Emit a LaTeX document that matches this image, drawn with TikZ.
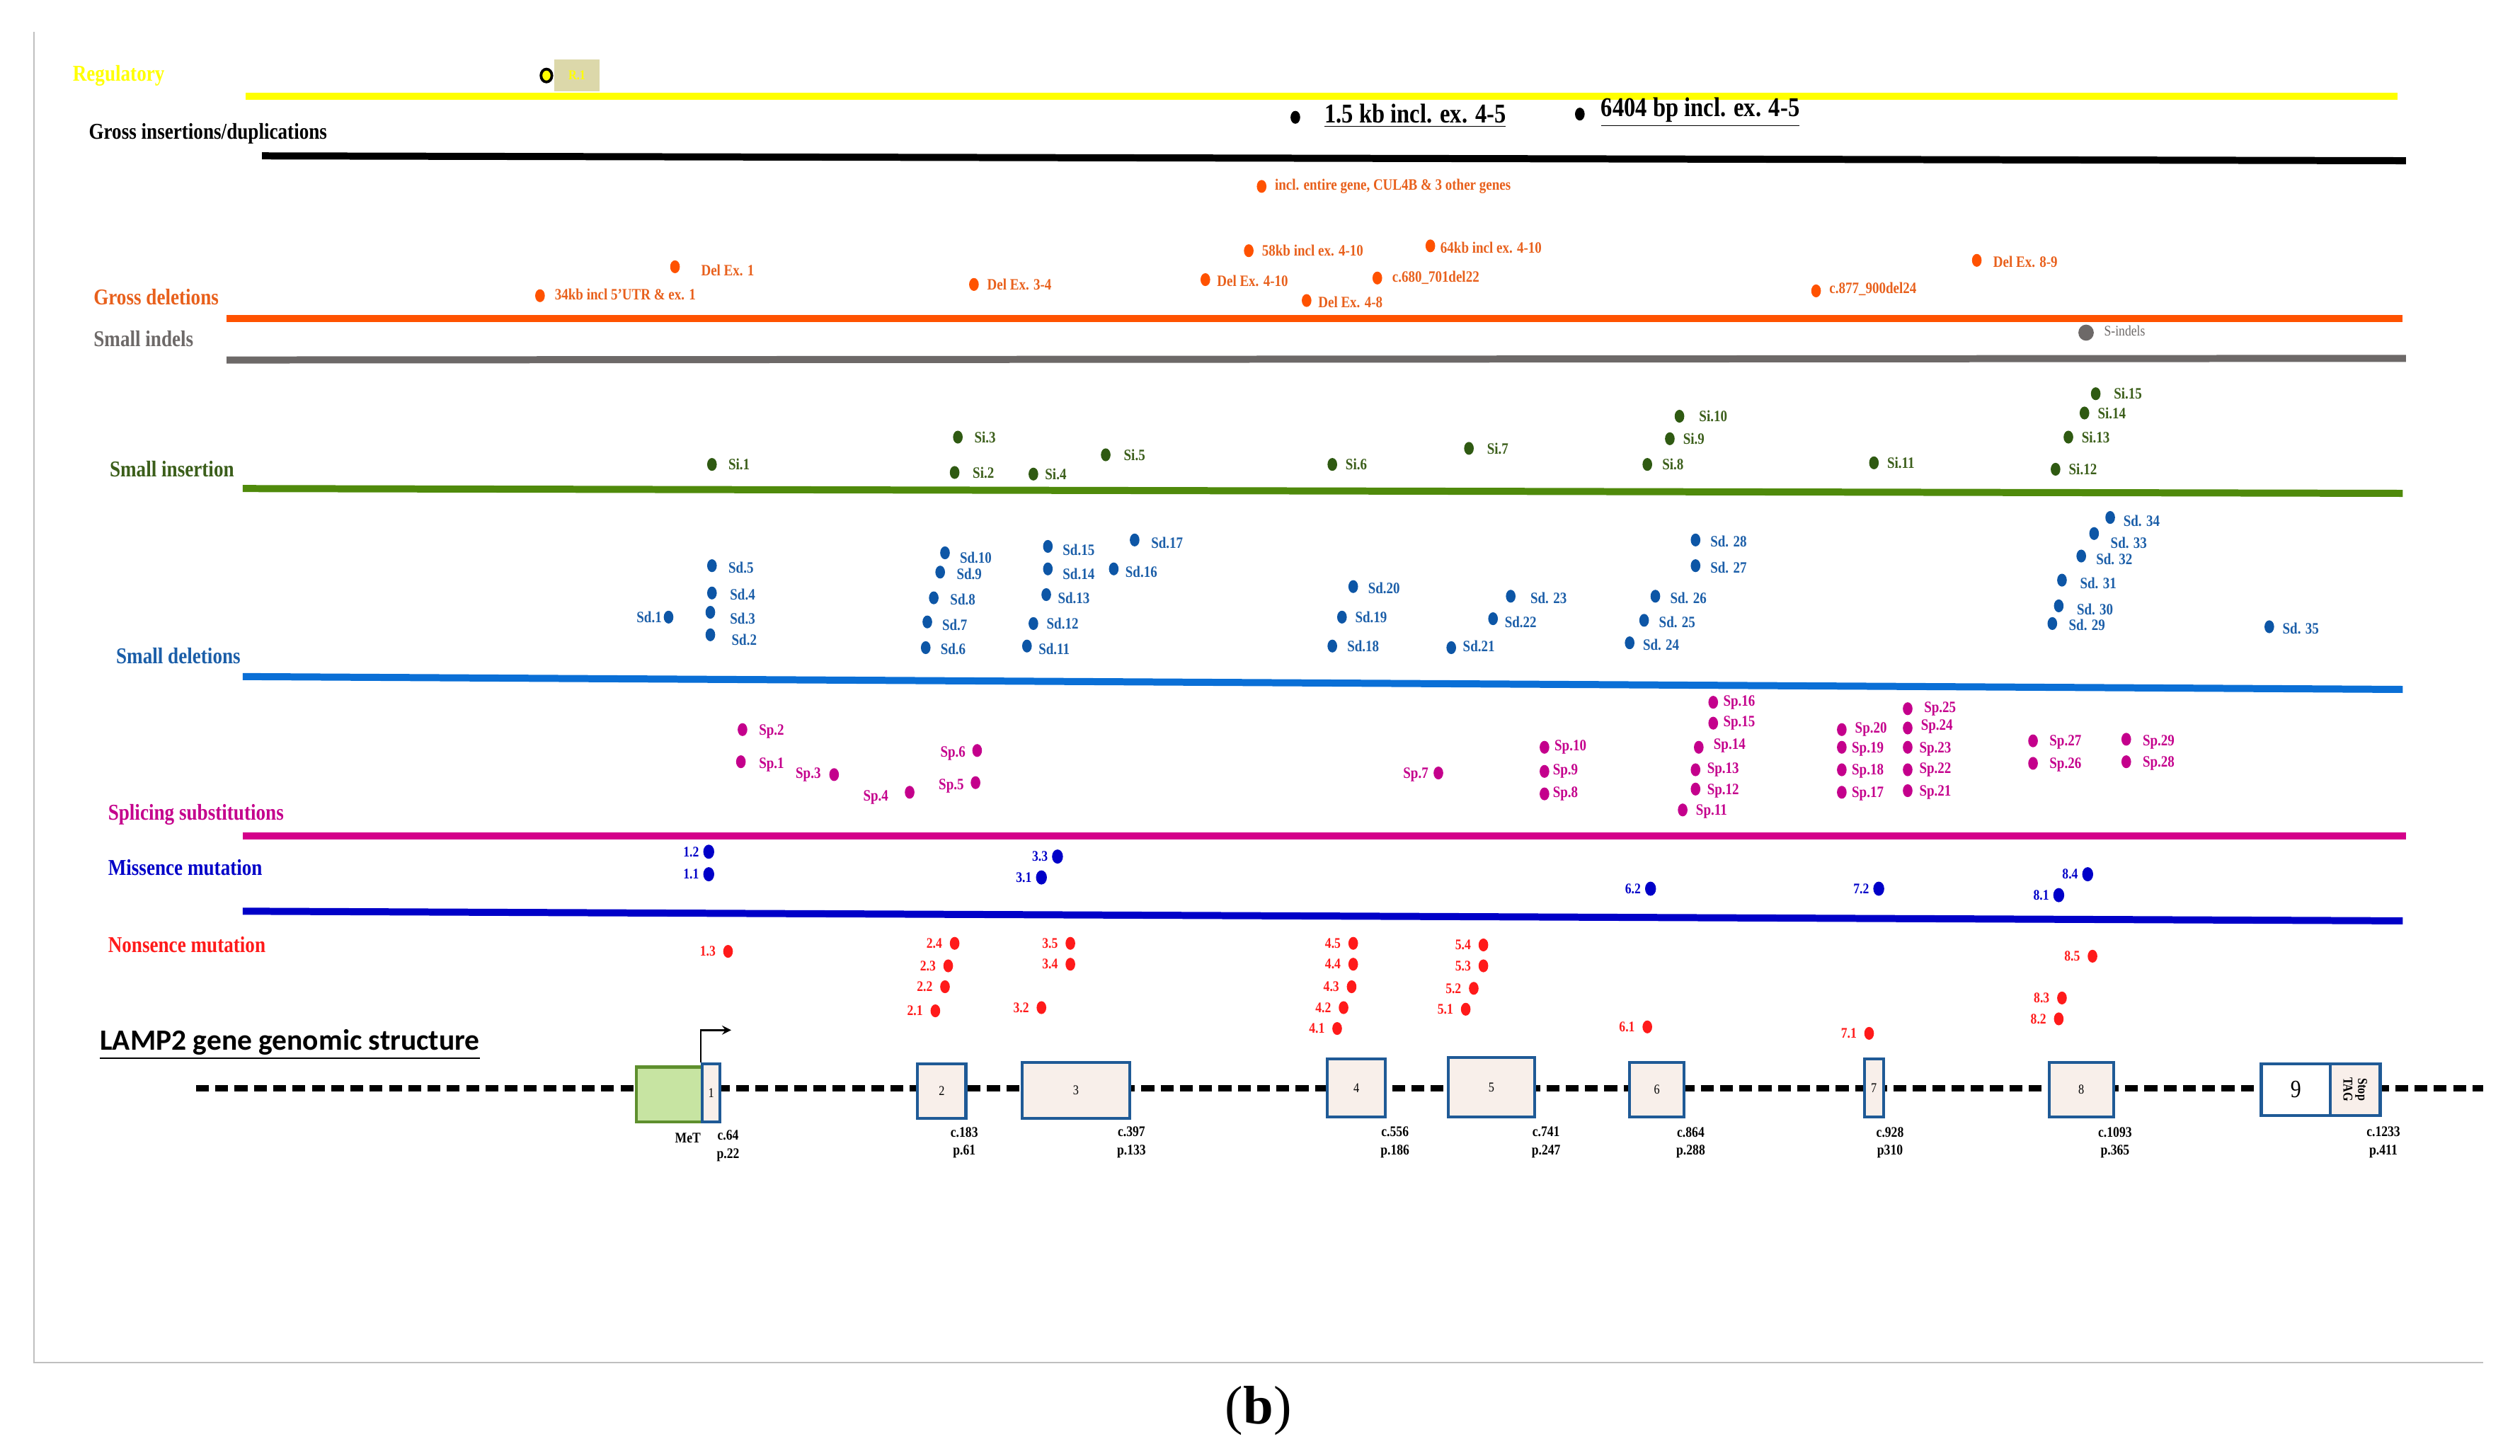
\documentclass[tikz,border=0pt]{standalone}
\usepackage{fontspec}
\setmainfont{Liberation Serif}[FakeStretch=0.85]
\newfontfamily\capfont{Liberation Serif}
\newfontfamily\genefont{Carlito}
\usetikzlibrary{shapes.geometric, arrows}

\definecolor{regyellow}{HTML}{FFFF00}
\definecolor{regbox}{HTML}{DCD8AA}
\definecolor{gdorange}{HTML}{FF5200}
\definecolor{gdtext}{HTML}{E8601C}
\definecolor{indelgrey}{HTML}{6D6968}
\definecolor{siline}{HTML}{4F8A0B}
\definecolor{sidot}{HTML}{2F5A12}
\definecolor{sitext}{HTML}{3B5E1A}
\definecolor{sdline}{HTML}{0A6FD6}
\definecolor{sddot}{HTML}{0D56A6}
\definecolor{sdtext}{HTML}{1B5EA8}
\definecolor{spline}{HTML}{D4008A}
\definecolor{spdot}{HTML}{C4008C}
\definecolor{msblue}{HTML}{0000C8}
\definecolor{nsred}{HTML}{FF1A1A}
\definecolor{exonblue}{HTML}{1F5A96}
\definecolor{exonfill}{HTML}{F8EFEA}
\definecolor{utrfill}{HTML}{C7E4A2}
\definecolor{utrdraw}{HTML}{5E8F2E}

\tikzstyle{heading} = [anchor=west, inner sep=0pt, font=\bfseries\fontsize{10}{12}\selectfont]
\tikzstyle{track} = [line width=0.11cm]
\tikzstyle{mutdot} = [ellipse, inner sep=0pt, minimum width=0.15cm, minimum height=0.2cm]
\tikzstyle{mutlab} = [inner sep=0pt, font=\bfseries\fontsize{7}{8}\selectfont]
\tikzstyle{numlab} = [inner sep=0pt, anchor=east, font=\bfseries\fontsize{6.5}{7}\selectfont]
\tikzstyle{biglab} = [anchor=west, inner sep=0pt, font=\bfseries\fontsize{12}{14}\selectfont]
\tikzstyle{exon} = [rectangle, draw=exonblue, line width=1.3pt, fill=exonfill, inner sep=0pt, font=\fontsize{6}{7}\selectfont]
\tikzstyle{poslab} = [inner sep=0pt, align=center, anchor=north, font=\bfseries\fontsize{6.5}{8}\selectfont]
\tikzstyle{arrow} = [thick,->,>=stealth]

\begin{document}
\begin{tikzpicture}[x=0.025cm, y=-0.025cm]
   \useasboundingbox (0,0) rectangle (1568,906);
   \draw [black!25, line width=0.6pt] (21,20) -- (21,848) -- (1545,848);

   % tracks
   \draw [track, regyellow] (153,60) -- (1492,60);
   \draw [track, black] (163,97) -- (1497,100);
   \draw [track, gdorange] (141,198) -- (1495,198);
   \draw [track, indelgrey] (141,224) -- (1497,223);
   \draw [track, siline] (151,304) -- (1495,307);
   \draw [track, sdline] (151,421) -- (1495,429);
   \draw [track, spline] (151,520) -- (1497,520);
   \draw [track, msblue] (151,567) -- (1495,573);

   % headings
   \node (hreg) [heading, text=regyellow] at (45,47) {Regulatory};
   \node (hgi) [heading] at (55,83) {Gross insertions/duplications};
   \node (hgd) [heading, text=gdtext] at (58,185) {Gross deletions};
   \node (hind) [heading, text=indelgrey] at (58,211) {Small indels};
   \node (hsi) [heading, text=sitext] at (68,292) {Small insertion};
   \node (hsd) [heading, text=sdtext] at (72,408) {Small deletions};
   \node (hsp) [heading, text=spdot] at (67,507) {Splicing substitutions};
   \node (hms) [heading, text=msblue] at (67,540) {Missence mutation};
   \node (hns) [heading, text=nsred] at (67,588) {Nonsence mutation};
   \node (hgene) [anchor=west, inner sep=0pt, font=\genefont\bfseries\fontsize{13}{15}\selectfont] at (62,650) {\underline{LAMP2 gene genomic structure}};

   % regulatory
   \node (r1box) [fill=regbox, minimum width=0.7cm, minimum height=0.5cm, inner sep=0pt, text=regyellow, font=\bfseries\fontsize{6}{7}\selectfont] at (359,47) {R.1};
   \node (r1) [mutdot, draw=black, line width=1.2pt, fill=regyellow, minimum width=0.17cm, minimum height=0.2cm] at (340,47) {};

   % gross insertions/duplications
   \node (gi1) [mutdot, fill=black] at (806,73) {};
   \node (gi1l) [biglab] at (824,72) {\underline{1.5 kb incl. ex. 4-5}};
   \node (gi2) [mutdot, fill=black] at (983,71) {};
   \node (gi2l) [biglab] at (996,70) {\underline{6404 bp incl. ex. 4-5}};

   % gross deletions
   \foreach \n/\x/\y/\lx/\ly/\t in {a/785/116/793/116/{incl. entire gene, CUL4B \& 3 other genes},
      b/420/166/436/168/Del Ex. 1, c/336/184/345/183/{34kb incl 5'UTR \& ex. 1},
      d/606/177/614/177/Del Ex. 3-4, e/777/156/785/156/58kb incl ex. 4-10,
      f/750/174/757/175/Del Ex. 4-10, g/890/153/896/154/64kb incl ex. 4-10,
      h/857/173/866/173/c.680\_701del22, i/813/187/820/188/Del Ex. 4-8,
      j/1130/181/1138/180/c.877\_900del24, k/1230/162/1240/163/Del Ex. 8-9}{
      \node (gd\n) [mutdot, fill=gdorange] at (\x,\y) {};
      \node (gd\n l) [mutlab, anchor=west, text=gdtext] at (\lx,\ly) {\t};
   }

   % small indels
   \node (ind1) [mutdot, fill=indelgrey, minimum width=0.24cm, minimum height=0.25cm] at (1298,207) {};
   \node (ind1l) [mutlab, anchor=west, text=indelgrey, font=\fontsize{6.5}{8}\selectfont] at (1309,206) {S-indels};

   % small insertions
   \foreach \n/\x/\y/\lx in {1/443/289/453, 3/596/272/606, 2/594/294/605, 4/643/295/650,
      5/688/283/699, 6/829/289/837, 7/914/279/925, 10/1045/259/1057, 9/1039/273/1047,
      8/1025/289/1034, 11/1166/288/1174, 15/1304/245/1315, 14/1297/257/1305,
      13/1287/272/1295, 12/1279/292/1287}{
      \node (si\n) [mutdot, fill=sidot] at (\x,\y) {};
      \node (si\n l) [mutlab, anchor=west, text=sitext] at (\lx,\y) {Si.\n};
   }

   % small deletions
   \foreach \n/\x/\y/\lx/\ly/\t in {5/443/352/453/353/Sd.5, 4/443/369/454/370/Sd.4,
      3/442/381/454/385/Sd.3, 2/442/395/455/398/Sd.2, 10/588/344/597/347/Sd.10,
      9/585/356/595/357/Sd.9, 8/581/372/591/373/Sd.8, 7/577/387/586/389/Sd.7,
      6/576/403/585/404/Sd.6, 15/652/340/661/342/Sd.15, 14/652/354/661/357/Sd.14,
      13/651/370/658/372/Sd.13, 12/643/388/651/388/Sd.12, 11/639/402/646/404/Sd.11,
      17/706/336/716/338/Sd.17, 16/693/354/700/356/Sd.16, 20/842/365/851/366/Sd.20,
      19/835/384/843/384/Sd.19, 18/829/402/838/402/Sd.18, 23/940/371/952/372/Sd. 23,
      22/929/385/936/387/Sd.22, 21/903/403/910/402/Sd.21, 28/1055/336/1064/337/Sd. 28,
      27/1055/352/1064/353/Sd. 27, 26/1030/371/1039/372/Sd. 26, 25/1023/386/1032/387/Sd. 25,
      24/1014/400/1022/401/Sd. 24, 34/1313/322/1321/324/Sd. 34, 33/1303/332/1313/338/Sd. 33,
      32/1295/346/1304/348/Sd. 32, 31/1283/361/1294/363/Sd. 31, 30/1281/377/1292/379/Sd. 30,
      29/1277/388/1287/389/Sd. 29, 35/1412/390/1420/391/Sd. 35}{
      \node (sd\n) [mutdot, fill=sddot] at (\x,\y) {};
      \node (sd\n l) [mutlab, anchor=west, text=sdtext] at (\lx,\ly) {\t};
   }
   \node (sd1) [mutdot, fill=sddot] at (416,384) {};
   \node (sd1l) [mutlab, anchor=east, text=sdtext] at (412,384) {Sd.1};

   % splicing substitutions
   \foreach \n/\x/\y/\lx/\ly in {2/462/454/472/455, 1/461/474/472/476, 10/961/465/967/465,
      9/961/480/966/480, 8/961/494/966/494, 16/1066/437/1072/437, 15/1066/450/1072/450,
      14/1057/465/1066/464, 13/1055/479/1062/479, 12/1055/491/1062/492, 11/1047/504/1055/505,
      20/1146/454/1154/454, 19/1146/465/1152/466, 18/1146/479/1152/480, 17/1146/493/1152/494,
      25/1187/441/1197/441, 24/1187/453/1195/452, 23/1187/465/1194/466, 22/1187/479/1194/479,
      21/1187/492/1194/493, 27/1265/461/1275/462, 26/1265/475/1275/476, 29/1323/460/1333/462,
      28/1323/474/1333/475}{
      \node (sp\n) [mutdot, fill=spdot] at (\x,\y) {};
      \node (sp\n l) [mutlab, anchor=west, text=spdot] at (\lx,\ly) {Sp.\n};
   }
   \foreach \n/\x/\y/\lx/\ly in {3/519/482/511/482, 4/566/493/553/496, 6/608/467/601/469,
      5/607/487/600/489, 7/895/481/889/482}{
      \node (sp\n) [mutdot, fill=spdot] at (\x,\y) {};
      \node (sp\n l) [mutlab, anchor=east, text=spdot] at (\lx,\ly) {Sp.\n};
   }

   % missence mutations
   \foreach \t/\x/\y [count=\i] in {1.2/441/530, 1.1/441/544, 3.3/658/533, 3.1/648/546,
      6.2/1027/553, 7.2/1169/553, 8.4/1299/544, 8.1/1281/557}{
      \node (ms\i) [mutdot, fill=msblue, minimum width=0.17cm, minimum height=0.22cm] at (\x,\y) {};
      \node (ms\i l) [numlab, text=msblue] at ([xshift=-1.5pt]ms\i.west) {\t};
   }

   % nonsence mutations
   \foreach \t/\x/\y [count=\i] in {1.3/453/592, 2.4/594/587, 2.3/590/601, 2.2/588/614,
      2.1/582/629, 3.5/666/587, 3.4/666/600, 3.2/648/627, 4.5/842/587, 4.4/842/600,
      4.3/841/614, 4.2/836/627, 4.1/832/640, 5.4/923/588, 5.3/923/601, 5.2/917/615,
      5.1/912/628, 6.1/1025/639, 7.1/1163/643, 8.5/1302/595, 8.3/1283/621, 8.2/1281/634}{
      \node (ns\i) [mutdot, fill=nsred] at (\x,\y) {};
      \node (ns\i l) [numlab, text=nsred] at ([xshift=-3pt]ns\i.west) {\t};
   }

   % gene structure
   \coordinate (gstart) at (122,677);
   \coordinate (gend) at (1545,677);
   \draw [line width=0.1cm, dash pattern=on 0.2cm off 0.1cm] (gstart) -- (gend);

   \node (utr) [rectangle, draw=utrdraw, fill=utrfill, line width=1.3pt, minimum width=1.025cm, minimum height=0.85cm] at (416.5,681) {};
   \node (ex1) [exon, minimum width=0.275cm, minimum height=0.9cm] at (442.5,680) {1};
   \node (ex2) [exon, minimum width=0.75cm, minimum height=0.85cm] at (586,679) {2};
   \node (ex3) [exon, minimum width=1.675cm, minimum height=0.875cm] at (669.5,678.5) {3};
   \node (ex4) [exon, minimum width=0.9cm, minimum height=0.9cm] at (844,677) {4};
   \node (ex5) [exon, minimum width=1.35cm, minimum height=0.925cm] at (928,676.5) {5};
   \node (ex6) [exon, minimum width=0.85cm, minimum height=0.85cm] at (1031,678) {6};
   \node (ex7) [exon, minimum width=0.3cm, minimum height=0.9cm] at (1166,677) {7};
   \node (ex8) [exon, minimum width=1.0cm, minimum height=0.85cm] at (1295,678) {8};
   \node (ex9) [exon, fill=white, minimum width=1.075cm, minimum height=0.8cm, font=\fontsize{11}{12}\selectfont] at (1428.5,678) {9};
   \node (stop) [exon, minimum width=0.775cm, minimum height=0.8cm] at (1465.5,678) {};
   \node (stopl) [rotate=-90, inner sep=0pt, align=center, font=\bfseries\fontsize{6}{6.5}\selectfont] at (stop.center) {Stop\\TAG};

   \coordinate (tss) at (455,641);
   \draw [arrow] (ex1.north west) |- (tss);

   \node (met) [inner sep=0pt, font=\bfseries\fontsize{6.5}{8}\selectfont] at (428,708) {MeT};
   \node (pos1) [poslab] at (453,703) {c.64\\p.22};
   \node (pos2) [poslab] at (600,701) {c.183\\p.61};
   \node (pos3) [poslab] at (704,701) {c.397\\p.133};
   \node (pos4) [poslab] at (868,701) {c.556\\p.186};
   \node (pos5) [poslab] at (962,701) {c.741\\p.247};
   \node (pos6) [poslab] at (1052,701) {c.864\\p.288};
   \node (pos7) [poslab] at (1176,701) {c.928\\p310};
   \node (pos8) [poslab] at (1316,701) {c.1093\\p.365};
   \node (pos9) [poslab] at (1483,701) {c.1233\\p.411};

   \node (panel) [inner sep=0pt, font=\capfont\fontsize{24}{28}\selectfont] at (783,878) {(\textbf{b})};
\end{tikzpicture}
\end{document}
